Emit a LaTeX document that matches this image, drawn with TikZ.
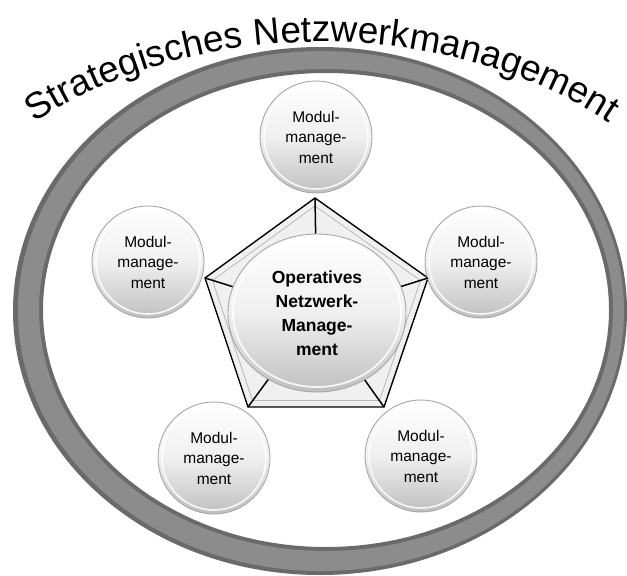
\documentclass[tikz,border=0pt]{standalone}
\usepackage{fontspec}
\setmainfont{Liberation Sans}
\usetikzlibrary{shapes.geometric,decorations.text}
\definecolor{ringdark}{HTML}{6A6A6A}
\definecolor{ringmid}{HTML}{8C8C8C}
\tikzset{
  ball/.style={circle, minimum size=112pt, inner sep=0pt, draw=gray!70, line width=0.9pt,
    top color=white, bottom color=gray!50, middle color=gray!12, align=center,
    font=\fontsize{15.5}{20.5}\selectfont,
    path picture={\draw[white, line width=1.6pt, opacity=.85] (path picture bounding box.center) circle[radius=52pt];}},
  bigball/.style={ellipse, minimum width=178pt, minimum height=158pt, inner sep=0pt, draw=gray!70, line width=0.9pt,
    top color=white, bottom color=gray!50, middle color=gray!12, align=center,
    font=\bfseries\fontsize{17.5}{24}\selectfont,
    path picture={\draw[white, line width=1.8pt, opacity=.85] (path picture bounding box.center) ellipse[x radius=84pt, y radius=74pt];}},
  spoke/.style={draw=black, line width=1.5pt},
  pentline/.style={draw=black, line width=1.4pt, line join=miter},
}
\begin{document}
\begin{tikzpicture}[x=1pt,y=-1pt]
\useasboundingbox (0,0) rectangle (627,576);
% ring
\fill[ringdark, even odd rule] (320,311) ellipse[x radius=307, y radius=264] (326,310) ellipse[x radius=283, y radius=237];
\fill[ringmid, even odd rule] (321,311) ellipse[x radius=303, y radius=260] (326,310) ellipse[x radius=287, y radius=241];
% title
\path[decorate, decoration={text along path, text align=center,
  text={|\fontsize{37}{37}\selectfont|Strategisches Netzwerkmanagement}}]
  (322,342) ++(205:420 and 300) arc[start angle=205, end angle=335, x radius=420, y radius=300];
% pentagon
\coordinate (v1) at (315,198);
\coordinate (v2) at (428,278);
\coordinate (v3) at (384,407);
\coordinate (v4) at (248,407);
\coordinate (v5) at (205,278);
\fill[gray!12] (v1) -- (v2) -- (v3) -- (v4) -- (v5) -- cycle;
\draw[gray!55, line width=0.8pt] (315,206) -- (420.5,280.5) -- (379.5,400.5) -- (252.5,400.5) -- (212.5,280.5) -- cycle;
\draw[pentline] (v1) -- (v2) -- (v3) -- (v4) -- (v5) -- cycle;
% nodes
\node[bigball] (op) at (317,313) {Operatives\\Netzwerk-\\Manage-\\ment};
\node[ball] (m1) at (316,137) {Modul-\\manage-\\ment};
\node[ball] (m2) at (481,262) {Modul-\\manage-\\ment};
\node[ball] (m3) at (421,456) {Modul-\\manage-\\ment};
\node[ball] (m4) at (214,458) {Modul-\\manage-\\ment};
\node[ball] (m5) at (148,262) {Modul-\\manage-\\ment};
% spokes
\draw[spoke] (v1) -- (op);
\draw[spoke] (v2) -- (op);
\draw[spoke] (v3) -- (op);
\draw[spoke] (v4) -- (op);
\draw[spoke] (v5) -- (op);
\end{tikzpicture}
\end{document}
